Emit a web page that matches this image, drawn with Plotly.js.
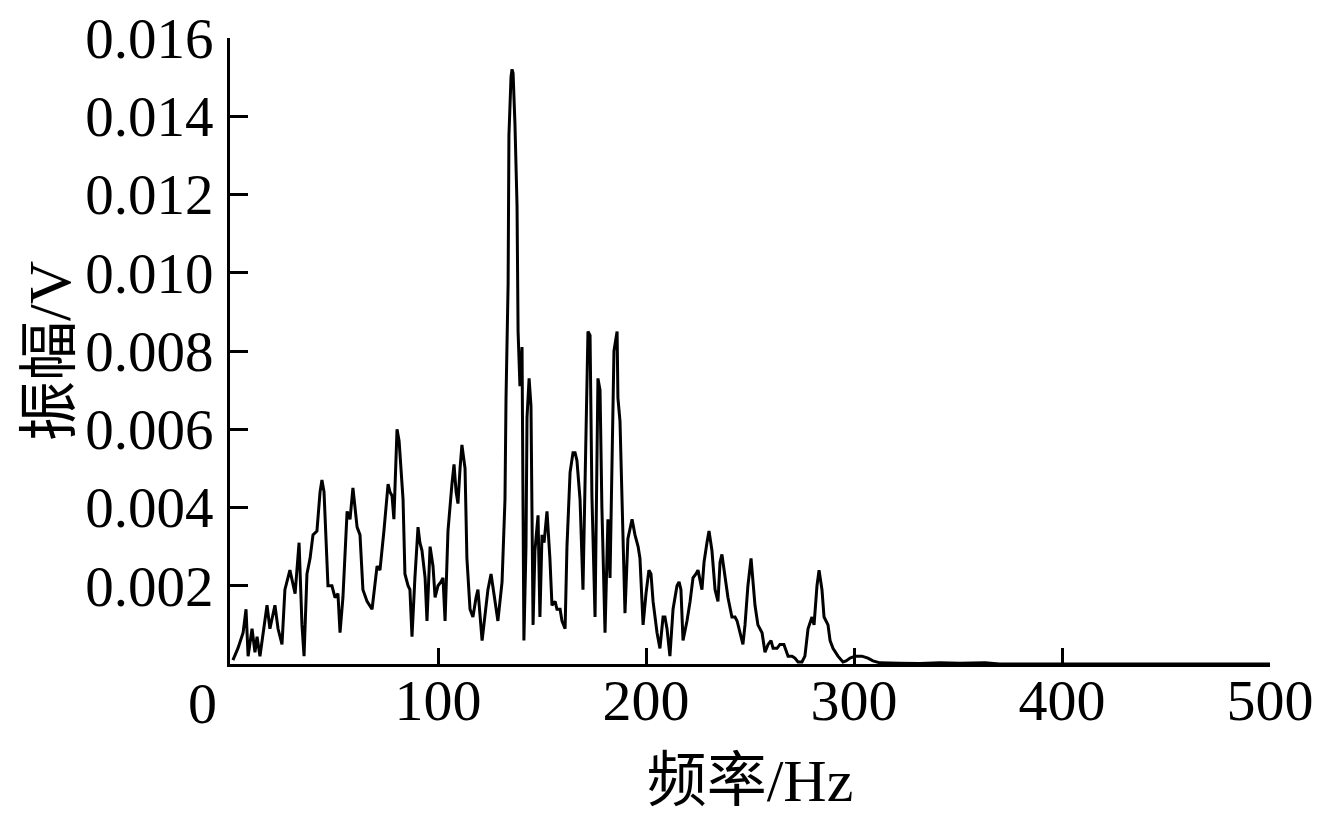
<!DOCTYPE html>
<html>
<head>
<meta charset="utf-8">
<script src="https://cdn.plot.ly/plotly-3.0.1.min.js"></script>
<style>
  html, body { margin: 0; padding: 0; background: #ffffff; }
  #chart { width: 1338px; height: 818px; }
</style>
</head>
<body>
<div id="chart"></div>
<script>
// Frequency (Hz)
const freqHz = [
  1.4, 3.8, 6.3, 7.7, 8.7, 10.6, 12.0, 13.0, 14.4, 15.9, 17.8, 19.2, 21.6, 23.1, 25.0,
  26.4, 28.8, 31.3, 33.2, 34.6, 35.6, 37.0, 38.5, 39.9, 41.8, 43.3, 44.2, 45.2, 46.6, 47.1,
  49.0, 50.5, 51.9, 52.9, 54.3, 56.3, 57.7, 59.1, 60.1, 61.1, 62.5, 63.9, 65.9, 68.3, 70.7,
  72.1, 74.0, 76.0, 76.9, 77.9, 78.8, 80.3, 81.3, 82.2, 83.2, 84.1, 85.6, 86.5, 87.5, 88.9,
  90.4, 91.3, 92.3, 93.8, 94.7, 96.2, 97.6, 98.6, 100.0, 101.4, 102.4, 103.4, 104.8, 106.7, 107.7,
  108.7, 109.6, 110.6, 111.5, 113.0, 113.9, 115.4, 116.8, 118.3, 119.2, 121.2, 122.6, 124.0, 125.5, 127.4,
  128.8, 130.8, 131.7, 132.2, 132.7, 133.7, 134.1, 135.1, 135.6, 136.1, 137.0, 138.0, 138.5, 139.4, 140.4,
  140.9, 141.3, 142.3, 142.8, 143.8, 144.7, 145.7, 146.6, 148.1, 149.0, 150.0, 151.0, 152.4, 153.8, 154.8,
  156.3, 157.2, 158.7, 159.6, 161.1, 162.0, 163.5, 164.9, 165.9, 166.8, 168.3, 169.7, 171.2, 172.1, 173.1,
  174.0, 175.5, 176.9, 177.9, 178.8, 180.3, 181.7, 182.7, 183.7, 184.6, 186.1, 186.5, 187.5, 188.5, 189.9,
  191.3, 193.3, 194.7, 196.2, 197.1, 198.6, 200.0, 201.4, 202.4, 203.4, 205.3, 206.7, 208.2, 209.1, 210.1,
  211.5, 213.0, 214.9, 215.9, 216.8, 217.8, 219.7, 221.2, 222.6, 224.0, 225.0, 226.9, 227.9, 229.3, 230.3,
  231.7, 233.2, 234.6, 235.6, 236.5, 238.0, 239.4, 241.3, 242.8, 243.8, 245.2, 246.6, 247.6, 249.0, 250.5,
  251.4, 252.4, 253.8, 255.8, 257.2, 258.7, 260.1, 261.1, 263.0, 264.4, 266.3, 268.3, 270.2, 271.6, 273.1,
  275.0, 276.4, 277.9, 279.8, 280.8, 282.2, 283.2, 284.6, 285.6, 287.5, 288.5, 289.9, 292.3, 294.7, 296.2,
  298.1, 300.5, 303.8, 306.7, 309.1, 312.5, 322.0, 331.7, 341.3, 351.0, 363.0, 370.0, 400.0, 450.0, 500.0
];
// Amplitude (V)
const amplitudeV = [
  0.0001, 0.0004, 0.0008, 0.0014, 0.0002, 0.0009, 0.0003, 0.0007, 0.0002, 0.0008, 0.0015, 0.0009, 0.0015, 0.0009, 0.0005,
  0.0019, 0.0024, 0.0018, 0.0031, 0.0010, 0.0002, 0.0023, 0.0027, 0.0033, 0.0034, 0.0044, 0.0047, 0.0044, 0.0029, 0.0020,
  0.0020, 0.0017, 0.0018, 0.0008, 0.0017, 0.0039, 0.0037, 0.0045, 0.0040, 0.0035, 0.0033, 0.0019, 0.0016, 0.0014, 0.0025,
  0.0024, 0.0034, 0.0046, 0.0044, 0.0043, 0.0037, 0.0060, 0.0057, 0.0051, 0.0042, 0.0023, 0.0020, 0.0019, 0.0007, 0.0022,
  0.0035, 0.0031, 0.0029, 0.0022, 0.0011, 0.0030, 0.0025, 0.0017, 0.0020, 0.0021, 0.0022, 0.0011, 0.0034, 0.0046, 0.0051,
  0.0044, 0.0041, 0.0050, 0.0056, 0.0050, 0.0027, 0.0014, 0.0012, 0.0017, 0.0019, 0.0006, 0.0012, 0.0019, 0.0023, 0.0016,
  0.0011, 0.0021, 0.0032, 0.0042, 0.0068, 0.0097, 0.0135, 0.0150, 0.0152, 0.0151, 0.0138, 0.0117, 0.0085, 0.0071, 0.0081,
  0.0040, 0.0006, 0.0030, 0.0063, 0.0073, 0.0066, 0.0010, 0.0029, 0.0038, 0.0012, 0.0033, 0.0031, 0.0039, 0.0027, 0.0015,
  0.0016, 0.0014, 0.0014, 0.0011, 0.0009, 0.0030, 0.0049, 0.0054, 0.0054, 0.0052, 0.0042, 0.0019, 0.0059, 0.0085, 0.0084,
  0.0043, 0.0012, 0.0073, 0.0070, 0.0040, 0.0008, 0.0037, 0.0022, 0.0048, 0.0080, 0.0085, 0.0068, 0.0062, 0.0039, 0.0013,
  0.0032, 0.0037, 0.0033, 0.0030, 0.0027, 0.0010, 0.0018, 0.0024, 0.0023, 0.0016, 0.0008, 0.0004, 0.0012, 0.0012, 0.0009,
  0.0002, 0.0014, 0.0020, 0.0021, 0.0019, 0.0006, 0.0011, 0.0016, 0.0022, 0.0023, 0.0024, 0.0019, 0.0026, 0.0031, 0.0034,
  0.0029, 0.0019, 0.0016, 0.0026, 0.0028, 0.0022, 0.0017, 0.0012, 0.0012, 0.0011, 0.0008, 0.0005, 0.0010, 0.0020, 0.0027,
  0.0022, 0.0015, 0.0010, 0.0008, 0.0003, 0.0005, 0.0006, 0.0004, 0.0004, 0.0005, 0.0005, 0.0002, 0.0002, 0.00015, 0.00005,
  0.00005, 0.0002, 0.0009, 0.0012, 0.0010, 0.0020, 0.0024, 0.0019, 0.0012, 0.0010, 0.0006, 0.0004, 0.0002, 0.00005, 0.00008,
  0.00015, 0.0002, 0.0002, 0.00015, 0.00008, 0.00003, 0.00002, 0.00001, 0.00003, 0.00002, 0.00003, 0.0, 0.0, 0.0, 0.0
];

const xTickVals = [100, 200, 300, 400, 500];
const xTickText = ["100", "200", "300", "400", "500"];
const yTickVals = [0.002, 0.004, 0.006, 0.008, 0.010, 0.012, 0.014, 0.016];
const yTickText = ["0.002", "0.004", "0.006", "0.008", "0.010", "0.012", "0.014", "0.016"];
const originLabel = "0";
const xTitleCjk = "频率";
const xTitleUnit = "/Hz";
const yTitleCjk = "振幅";
const yTitleUnit = "/V";

const serif = "'Times New Roman', 'Liberation Serif', 'DejaVu Serif', serif";

const trace = {
  x: freqHz,
  y: amplitudeV,
  type: "scatter",
  mode: "lines",
  line: { color: "#000000", width: 3 },
  hoverinfo: "x+y"
};

const mixTitle = (cjk, unit) =>
  '<span style="font-family:Noto Sans CJK SC">' + cjk + '</span>' + unit;

const layout = {
  width: 1338,
  height: 818,
  paper_bgcolor: "#ffffff",
  plot_bgcolor: "#ffffff",
  showlegend: false,
  margin: { l: 230, r: 68, t: 38, b: 154, pad: 0 },
  font: { family: serif, size: 57, color: "#000000" },
  xaxis: {
    range: [0, 500],
    tickvals: xTickVals,
    ticktext: xTickText,
    ticks: "inside",
    ticklen: 16,
    tickwidth: 3,
    tickcolor: "#000000",
    showline: true,
    linecolor: "#000000",
    linewidth: 3,
    showgrid: false,
    zeroline: false,
    tickfont: { family: serif, size: 58, color: "#000000" },
    ticklabelstandoff: -17,
    title: { text: mixTitle(xTitleCjk, xTitleUnit), font: { family: serif, size: 60, color: "#000000" }, standoff: 12 }
  },
  yaxis: {
    range: [0, 0.016],
    tickvals: yTickVals,
    ticktext: yTickText,
    ticks: "inside",
    ticklen: 18,
    tickwidth: 3,
    tickcolor: "#000000",
    showline: true,
    linecolor: "#000000",
    linewidth: 3,
    showgrid: false,
    zeroline: false,
    tickfont: { family: serif, size: 57, color: "#000000" },
    ticklabelstandoff: 2,
    title: { text: mixTitle(yTitleCjk, yTitleUnit), font: { family: serif, size: 60, color: "#000000" }, standoff: 12 }
  },
  annotations: [
    {
      text: originLabel,
      xref: "paper", yref: "paper",
      x: -0.026, y: 0,
      xanchor: "center", yanchor: "top",
      yshift: -5,
      showarrow: false,
      font: { family: serif, size: 58, color: "#000000" }
    }
  ]
};

Plotly.newPlot("chart", [trace], layout, { displayModeBar: false, staticPlot: true });
</script>
</body>
</html>
